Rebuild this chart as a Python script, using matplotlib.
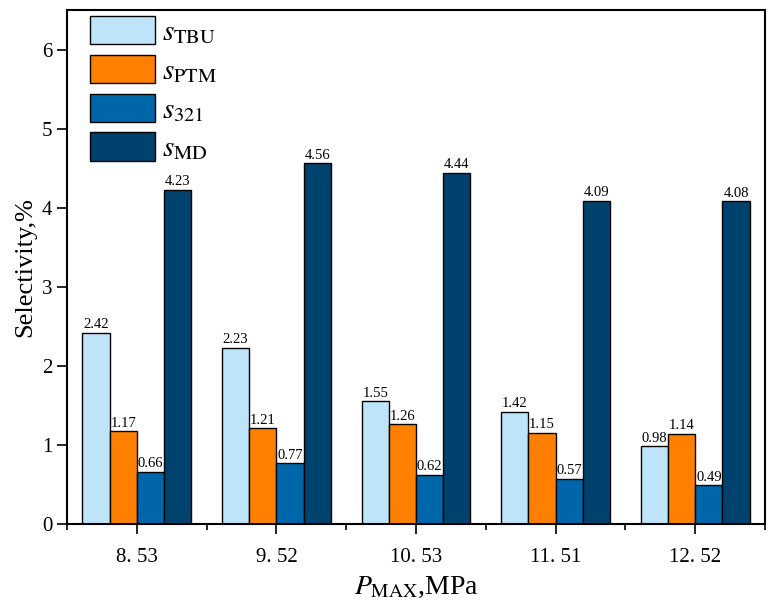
import numpy as np
import matplotlib
matplotlib.use("Agg")
from matplotlib import pyplot as plt
from matplotlib.ticker import MultipleLocator

plt.rcParams['font.family'] = ['Liberation Serif', 'DejaVu Serif']
plt.rcParams['mathtext.fontset'] = 'stix'

pressures = ["8. 53", "9. 52", "10. 53", "11. 51", "12. 52"]
s_tbu = [2.42, 2.23, 1.55, 1.42, 0.98]
s_ptm = [1.17, 1.21, 1.26, 1.15, 1.14]
s_321 = [0.66, 0.77, 0.62, 0.57, 0.49]
s_md = [4.23, 4.56, 4.44, 4.09, 4.08]

series = [s_tbu, s_ptm, s_321, s_md]
labels = [r'$\mathit{s}_{\mathrm{TBU}}$', r'$\mathit{s}_{\mathrm{PTM}}$',
          r'$\mathit{s}_{321}$', r'$\mathit{s}_{\mathrm{MD}}$']
colors = ['#BEE4FA', '#FF7F00', '#0066AA', '#00426E']

fig = plt.figure(figsize=(7.77, 6.14), dpi=100)
ax = fig.add_axes([0.0862, 0.1466, 0.8984, 0.8371])

x = np.arange(len(pressures))
w = 0.195
for i, (vals, lab, c) in enumerate(zip(series, labels, colors)):
    pos = x + (i - 1.5) * w
    ax.bar(pos, vals, w, color=c, edgecolor='black', linewidth=1.0, label=lab)
    for xi, v in zip(pos, vals):
        ax.text(xi, v + 0.02, f"{v:.2f}", ha='center', va='bottom', fontsize=10.5)

ax.set_xlim(-0.5, 4.5)
ax.set_ylim(0, 6.5)
ax.set_xticks(x)
ax.set_xticklabels(pressures, fontsize=15)
ax.xaxis.set_minor_locator(MultipleLocator(1, offset=0.5))
ax.set_yticks(range(7))
ax.tick_params(axis='y', labelsize=15, direction='out', length=7, width=1.2)
ax.tick_params(axis='x', which='major', direction='out', length=7, width=1.2, pad=10)
ax.tick_params(axis='x', which='minor', direction='out', length=4, width=1.2)
for sp in ax.spines.values():
    sp.set_linewidth(1.5)

ax.set_ylabel('Selectivity,%', fontsize=19)
ax.set_xlabel(r'$\mathit{P}_{\mathrm{MAX}}$,MPa', fontsize=20, labelpad=6)

ax.legend(loc='upper left', bbox_to_anchor=(0.024, 1.0), frameon=False, fontsize=21,
          handlelength=2.23, handleheight=1.12, labelspacing=0.3, handletextpad=0.25,
          borderaxespad=0.0, borderpad=0.2)

fig.savefig('out.png', dpi=100)
